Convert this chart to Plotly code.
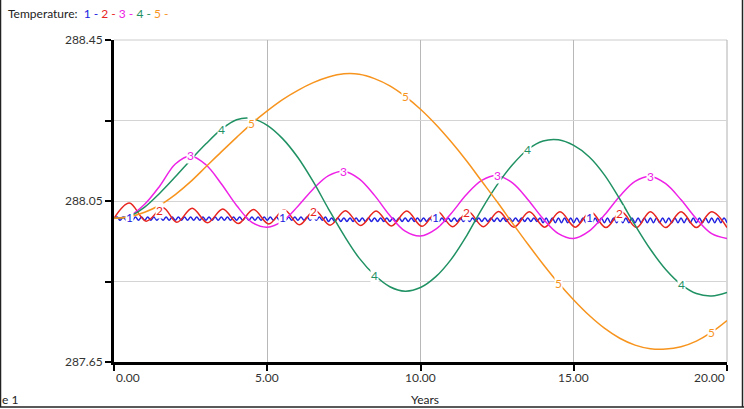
import numpy as np
import plotly.graph_objects as go

# ---------------- data ----------------
x_tickvals = [0, 5, 10, 15, 20]
x_ticktext = ["0.00", "5.00", "10.00", "15.00", "20.00"]
y_tickvals = [287.65, 287.85, 288.05, 288.25, 288.45]
y_ticktext = ["287.65", "", "288.05", "", "288.45"]

series_names = ["1", "2", "3", "4", "5"]
series_colors = ["#2222e0", "#e8251f", "#ee22e6", "#1f9163", "#f7941e"]

# series 1: saved every 0.1 year
t1 = np.round(np.arange(0, 20.0001, 0.1), 1)
v1 = [288.006,
      288.010, 288.002, 288.010, 288.002, 288.010, 288.002, 288.010, 288.002, 288.010, 288.002,
      288.010, 288.002, 288.010, 288.002, 288.010, 288.002, 288.010, 288.002, 288.010, 288.002,
      288.010, 288.002, 288.010, 288.002, 288.010, 288.002, 288.010, 288.002, 288.010, 288.002,
      288.010, 288.002, 288.010, 288.002, 288.010, 288.002, 288.010, 288.002, 288.010, 288.002,
      288.010, 288.002, 288.010, 288.002, 288.010, 288.002, 288.010, 288.002, 288.010, 288.002,
      288.010, 288.002, 288.010, 288.002, 288.010, 288.002, 288.010, 288.002, 288.010, 288.002,
      288.010, 288.002, 288.010, 288.002, 288.010, 288.002, 288.010, 288.002, 288.010,
      287.999, 288.008, 287.999, 288.008, 287.999, 288.008, 287.999, 288.008, 287.999, 288.008,
      287.999, 288.008, 287.999, 288.008, 287.999, 288.008, 287.999, 288.008, 287.999, 288.008,
      287.999, 288.008, 287.999, 288.008, 287.999, 288.008, 287.999, 288.008, 287.999, 288.008,
      287.999, 288.008, 287.999, 288.008, 287.999, 288.008, 287.999, 288.008, 287.999, 288.008,
      287.999, 288.008, 287.999, 288.008, 287.999, 288.008, 287.999, 288.008, 287.999, 288.008,
      287.999, 288.008, 287.999, 288.008, 287.999, 288.008, 287.999, 288.008, 287.999, 288.008,
      287.999, 288.008, 287.999, 288.008, 287.999, 288.008, 287.999, 288.008, 287.999, 288.008,
      287.996, 288.008, 287.996, 288.008, 287.996, 288.008, 287.996, 288.008, 287.996, 288.008,
      287.996, 288.008, 287.996, 288.008, 287.996, 288.008, 287.996, 288.008, 287.996, 288.008,
      287.996, 288.008, 287.996, 288.008, 287.996, 288.008, 287.996, 288.008, 287.996, 288.008,
      287.996, 288.008, 287.996, 288.008, 287.996, 288.008, 287.996, 288.008, 287.996, 288.008,
      287.996, 288.008, 287.996, 288.008, 287.996, 288.008, 287.996, 288.008, 287.996, 288.008,
      287.996, 288.008, 287.996, 288.008, 287.996, 288.008, 287.996, 288.008, 287.996, 288.008,
      287.996]

# series 2: read at its peaks and troughs
t2 = [0.0, 0.5, 1.05, 1.6, 2.05, 2.55, 3.05, 3.55, 4.05, 4.55, 5.05, 5.55, 6.05, 6.55,
      7.05, 7.55, 8.05, 8.55, 9.05, 9.55, 10.05, 10.55, 11.05, 11.55, 12.05, 12.55,
      13.05, 13.55, 14.05, 14.55, 15.05, 15.55, 16.05, 16.55, 17.05, 17.5, 18.0, 18.5,
      19.0, 19.5, 20.0]
v2 = [288.007, 288.045, 288.000, 288.033, 287.997, 288.032, 287.996, 288.030, 287.994,
      288.029, 287.993, 288.028, 287.991, 288.027, 287.990, 288.026, 287.989, 288.025,
      287.988, 288.025, 287.987, 288.024, 287.986, 288.024, 287.986, 288.024, 287.985,
      288.023, 287.985, 288.023, 287.985, 288.023, 287.984, 288.023, 287.984, 288.023,
      287.984, 288.023, 287.984, 288.023, 287.984]

# series 3-5: read every 0.5 year
t_half = np.round(np.arange(0, 20.0001, 0.5), 1)
v3 = [288.007, 288.013, 288.042, 288.088, 288.142, 288.162, 288.140, 288.093, 288.039,
      287.997, 287.985, 288.000, 288.037, 288.080, 288.113, 288.124, 288.105, 288.064,
      288.014, 287.975, 287.963, 287.980, 288.019, 288.066, 288.101, 288.113, 288.095,
      288.054, 288.006, 287.969, 287.957, 287.975, 288.015, 288.062, 288.099, 288.111,
      288.093, 288.053, 288.006, 287.969, 287.957]
v4 = [288.007, 288.012, 288.035, 288.070, 288.110, 288.152, 288.192, 288.228, 288.252,
      288.255, 288.238, 288.205, 288.158, 288.098, 288.030, 287.965, 287.908, 287.866,
      287.837, 287.826, 287.835, 287.862, 287.905, 287.963, 288.030, 288.090, 288.140,
      288.178, 288.199, 288.202, 288.188, 288.160, 288.115, 288.055, 287.990, 287.930,
      287.880, 287.843, 287.820, 287.814, 287.823]
v5 = [288.007, 288.011, 288.022, 288.040, 288.066, 288.098, 288.135, 288.172, 288.208,
      288.243, 288.274, 288.302, 288.325, 288.344, 288.358, 288.366, 288.365, 288.354,
      288.336, 288.310, 288.278, 288.240, 288.197, 288.150, 288.099, 288.048, 287.995,
      287.943, 287.893, 287.846, 287.804, 287.766, 287.734, 287.709, 287.692, 287.683,
      287.682, 287.688, 287.702, 287.724, 287.753]

label_times = [[0.5, 5.5, 10.5, 15.5],
               [1.5, 6.5, 11.5, 16.5],
               [2.5, 7.5, 12.5, 17.5],
               [3.5, 8.5, 13.5, 18.5],
               [4.5, 9.5, 14.5, 19.5]]

series_t = [t1, t2, t_half, t_half, t_half]
series_v = [v1, v2, v3, v4, v5]

# ---------------- figure ----------------
W, H = 744, 409
ML, MR, MT, MB = 114, 17, 40, 47
PW, PH = W - ML - MR, H - MT - MB


def px_x(p):
    return (p - ML) / PW


def px_y(p):
    return (H - MB - p) / PH


FONT = "Lato, 'Liberation Sans', sans-serif"

fig = go.Figure()
for name, col, t, v in zip(series_names, series_colors, series_t, series_v):
    fig.add_trace(go.Scatter(x=list(t), y=v, mode="lines", name=name,
                             line=dict(color=col, width=1.5, shape="spline", smoothing=1),
                             showlegend=False, hoverinfo="skip"))

annotations = []
for name, col, t, v, lt in zip(series_names, series_colors, series_t, series_v, label_times):
    ly = np.interp(lt, np.asarray(t, float), np.asarray(v, float))
    for xx, yy in zip(lt, ly):
        annotations.append(dict(x=xx, y=float(yy), xref="x", yref="y", text=name,
                                showarrow=False, font=dict(family=FONT, size=12, color=col),
                                bgcolor="white", borderpad=0))

# x tick labels: first left-aligned, last right-aligned, others centred
for i, (xv, xt) in enumerate(zip(x_tickvals, x_ticktext)):
    anchor = "left" if i == 0 else ("right" if i == len(x_tickvals) - 1 else "center")
    annotations.append(dict(x=xv, y=px_y(377), xref="x", yref="paper", text=xt,
                            showarrow=False, xanchor=anchor, yanchor="middle",
                            font=dict(family=FONT, size=12, color="#333333")))

legend_html = "Temperature:&nbsp; " + " ".join(
    f"<span style='color:{c}'>{n} -</span>" for n, c in zip(series_names, series_colors))
annotations.append(dict(x=px_x(6), y=px_y(13), xref="paper", yref="paper", text=legend_html,
                        showarrow=False, xanchor="left", yanchor="middle",
                        font=dict(family=FONT, size=12, color="#222222")))
annotations.append(dict(x=px_x(425), y=px_y(399), xref="paper", yref="paper", text="Years",
                        showarrow=False, xanchor="center", yanchor="middle",
                        font=dict(family=FONT, size=12, color="#222222")))
annotations.append(dict(x=px_x(0), y=px_y(399), xref="paper", yref="paper", text="e 1",
                        showarrow=False, xanchor="left", yanchor="middle",
                        font=dict(family=FONT, size=12, color="#222222")))

shapes = [
    dict(type="line", xref="paper", yref="paper", x0=0, x1=1, y0=1, y1=1,
         line=dict(color="#cccccc", width=1), layer="below"),
    dict(type="line", xref="paper", yref="paper", x0=1, x1=1, y0=0, y1=1,
         line=dict(color="#b0b0b0", width=1), layer="below"),
    dict(type="line", xref="paper", yref="paper", x0=px_x(0.5), x1=px_x(0.5), y0=px_y(0), y1=px_y(407),
         line=dict(color="#222222", width=1.5)),
    dict(type="line", xref="paper", yref="paper", x0=px_x(0), x1=px_x(744), y0=px_y(407), y1=px_y(407),
         line=dict(color="#222222", width=1.5)),
    dict(type="line", xref="paper", yref="paper", x0=px_x(742.5), x1=px_x(742.5), y0=px_y(0), y1=px_y(407),
         line=dict(color="#222222", width=1.5)),
]

fig.update_layout(
    width=W, height=H, autosize=False,
    margin=dict(l=ML, r=MR, t=MT, b=MB, pad=0, autoexpand=False),
    paper_bgcolor="white", plot_bgcolor="white",
    annotations=annotations, shapes=shapes,
    font=dict(family=FONT, size=12, color="#333333"),
)
fig.update_xaxes(range=[0, 20], tickvals=x_tickvals, ticktext=x_ticktext, showticklabels=False,
                 automargin=False,
                 showgrid=True, gridcolor="#b8b8b8", gridwidth=1,
                 showline=True, linecolor="black", linewidth=3,
                 ticks="outside", ticklen=6, tickwidth=2, tickcolor="black",
                 zeroline=False)
fig.update_yaxes(range=[287.65, 288.45], tickvals=y_tickvals, ticktext=y_ticktext,
                 automargin=False,
                 showgrid=True, gridcolor="#d4d4d4", gridwidth=1,
                 showline=True, linecolor="black", linewidth=3,
                 ticks="outside", ticklen=6, tickwidth=2, tickcolor="black",
                 zeroline=False, tickfont=dict(family=FONT, size=12, color="#333333"))

fig.write_html("out.html", config={"responsive": False})
